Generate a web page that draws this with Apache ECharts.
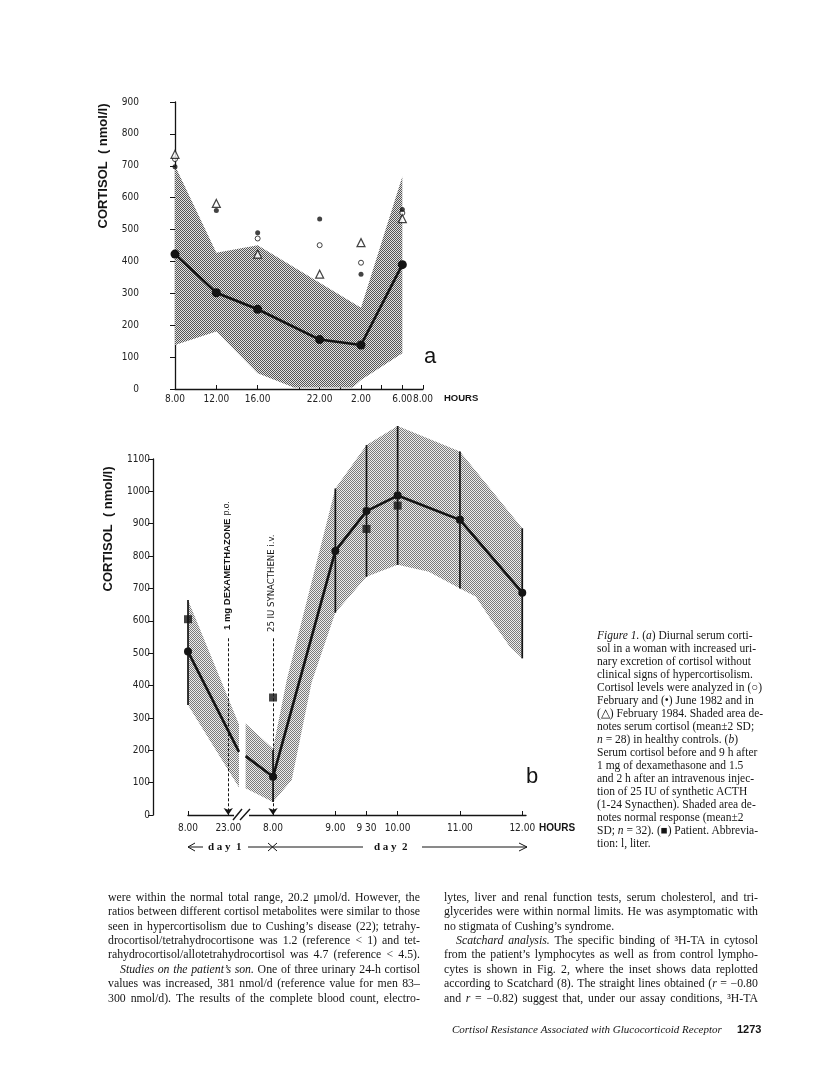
<!DOCTYPE html>
<html><head><meta charset="utf-8">
<script src="https://cdn.jsdelivr.net/npm/echarts@6.0.0/dist/echarts.min.js"></script>
<style>
html,body{margin:0;padding:0;background:#fff;overflow:hidden;}
#wrap{position:relative;width:816px;height:1074px;overflow:hidden;background:#fff;}
#chart{position:absolute;left:0;top:0;width:816px;height:1074px;}
.ln{position:absolute;white-space:nowrap;font-family:"Liberation Serif","Times New Roman",serif;color:#151515;line-height:14px;height:14px;}
.j{display:flex;justify-content:space-between;}
</style></head>
<body><div id="wrap"><div id="chart"></div></div>
<script>
// ---------- Figure 1a data (x = hours after 8.00) ----------
const aHourTicks = [0, 4, 8, 12, 14, 16, 18, 20, 22, 24];
const aHourVals = [0, 4, 8, 14, 18, 22, 24];
const aHourLabels = ['8.00', '12.00', '16.00', '22.00', '2.00', '6.00', '8.00'];
const aMean = [[0, 423], [4, 302], [8, 250], [14, 155], [18, 138], [22, 390]];
const aUpper = [[0, 700], [4, 427], [8, 451], [18, 255], [22, 666]];
const aLower = [[0, 138], [4, 180], [8, 49], [11.5, 5], [17.2, 5], [18, 28], [22, 112]];
const aFeb82 = [[0, 721], [8, 472], [14, 451], [18, 396], [22, 552]];
const aJun82 = [[0, 697], [4, 560], [8, 490], [14, 533], [18, 360], [22, 563]];
const aFeb84 = [[0, 736], [4, 582], [8, 423], [14, 360], [18, 459], [22, 534]];

// ---------- Figure 1b data ----------
const b1Vals = [8, 23];
const b1Labels = ['8.00', '23.00'];
const b2Vals = [8, 9, 9.5, 10, 11, 12];
const b2Labels = ['8.00', '9.00', '9 30', '10.00', '11.00', '12.00'];
const b1Mean = [[8, 505], [27, 195]];
const b1Patient = [[8, 605]];
const b1Range = [[8, 340, 664]];
const b1Upper = [[8, 664], [27, 280]];
const b1Lower = [[8, 340], [27, 85]];
const b2Mean = [[7.56, 182], [8, 118], [9, 816], [9.5, 939], [10, 987], [11, 912], [12, 687]];
const b2Patient = [[8, 363], [9.5, 884], [10, 956]];
const b2Range = [[8, 40, 200], [9, 625, 1009], [9.5, 736, 1143], [10, 773, 1202], [11, 700, 1123], [12, 484, 886]];
const b2Upper = [[7.56, 283], [8, 205], [8.22, 417], [9, 1009], [9.5, 1143], [10, 1202], [11, 1123], [12, 886]];
const b2Lower = [[7.56, 83], [8, 40], [8.3, 108], [8.62, 410], [9, 625], [9.5, 736], [10, 773], [10.5, 752], [11, 700], [11.25, 675], [11.5, 603], [11.8, 520], [12, 484]];
const dexTime = 23, synTime = 8, injTop = 546;

const narrow = '"Liberation Sans Narrow","DejaVu Sans Condensed","Liberation Sans",sans-serif';
const sans = '"Liberation Sans",Arial,sans-serif';
const serifF = '"Liberation Serif","Times New Roman",serif';
const ink = '#141414';

function pattern(dark, light) {
  const c = document.createElement('canvas'); c.width = 2; c.height = 2;
  const g = c.getContext('2d');
  g.fillStyle = light; g.fillRect(0, 0, 2, 2);
  g.fillStyle = dark; g.fillRect(0, 0, 1, 1); g.fillRect(1, 1, 1, 1);
  return c;
}
const patA = pattern('#555555', '#e2e2e2');
const patB = pattern('#7a7a7a', '#ededed');

function bandSeries(xi, yi, upper, lower, pat) {
  const poly = upper.concat(lower.slice().reverse());
  return {
    type: 'custom', xAxisIndex: xi, yAxisIndex: yi, z: 2, silent: true, clip: false,
    data: poly,
    renderItem: function (params, api) {
      if (params.dataIndex !== 0) return null;
      const pts = poly.map(p => api.coord(p));
      return { type: 'polygon', shape: { points: pts }, style: { fill: { image: pat, repeat: 'repeat' }, stroke: null } };
    }
  };
}
function rangeSeries(xi, yi, data) {
  return {
    type: 'custom', xAxisIndex: xi, yAxisIndex: yi, z: 4, silent: true, clip: false,
    data: data, encode: { x: 0, y: [1, 2] },
    renderItem: function (params, api) {
      const p1 = api.coord([api.value(0), api.value(1)]);
      const p2 = api.coord([api.value(0), api.value(2)]);
      return { type: 'line', shape: { x1: p1[0], y1: p1[1], x2: p2[0], y2: p2[1] }, style: { stroke: ink, lineWidth: 1.7 } };
    }
  };
}
function meanSeries(xi, yi, data, sizeFn) {
  return {
    type: 'line', xAxisIndex: xi, yAxisIndex: yi, data: data, z: 5, clip: false,
    symbol: 'circle', symbolSize: sizeFn, showAllSymbol: true,
    lineStyle: { color: ink, width: 2.6 }, itemStyle: { color: ink }
  };
}
function arrowSeries(xi, yi, t) {
  return {
    type: 'line', xAxisIndex: xi, yAxisIndex: yi, data: [[t, 0]], showSymbol: false, z: 1,
    lineStyle: { opacity: 0 },
    markLine: {
      silent: true, symbol: ['none', 'arrow'], symbolSize: 7, animation: false,
      label: { show: false },
      lineStyle: { type: [3, 2], color: ink, width: 1 },
      data: [[{ coord: [t, injTop] }, { coord: [t, 0] }]]
    }
  };
}
function yAx(grid, max, offset) {
  return {
    type: 'value', gridIndex: grid, min: 0, max: max, interval: 100, offset: offset,
    axisLine: { show: true, lineStyle: { color: ink, width: 1.3 } },
    axisTick: { show: true, length: 5, lineStyle: { color: ink, width: 1 } },
    axisLabel: { color: '#222', fontSize: 10, fontFamily: narrow, margin: 3, formatter: v => String(v) },
    splitLine: { show: false }
  };
}
function xAx(grid, min, max, ticks, vals, labels, margin) {
  return {
    type: 'value', gridIndex: grid, min: min, max: max,
    axisLine: { onZero: false, lineStyle: { color: ink, width: 1.3 } },
    axisTick: { inside: true, length: 4, customValues: ticks, lineStyle: { color: ink } },
    axisLabel: {
      customValues: vals, color: '#222', fontSize: 10, fontFamily: narrow, margin: margin,
      formatter: v => { const i = vals.indexOf(v); return i >= 0 ? labels[i] : ''; }
    },
    splitLine: { show: false }
  };
}

const option = {
  animation: false,
  grid: [
    { left: 175, top: 102, width: 248, height: 287 },
    { left: 188, top: 459, width: 51, height: 356 },
    { left: 245, top: 459, width: 281, height: 356 }
  ],
  xAxis: [
    xAx(0, 0, 24, aHourTicks, aHourVals, aHourLabels, 5),
    xAx(1, 8, 27, b1Vals, b1Vals, b1Labels, 8),
    xAx(2, 7.55, 12.06, b2Vals, b2Vals, b2Labels, 8)
  ],
  yAxis: [
    yAx(0, 900, 33),
    yAx(1, 1100, 35),
    Object.assign(yAx(2, 1100, 0), { show: false })
  ],
  series: [
    bandSeries(0, 0, aUpper, aLower, patA),
    meanSeries(0, 0, aMean, 9),
    { type: 'scatter', xAxisIndex: 0, yAxisIndex: 0, data: aFeb82, z: 6, symbol: 'circle', symbolSize: 5,
      itemStyle: { color: '#fff', borderColor: ink, borderWidth: 1 } },
    { type: 'scatter', xAxisIndex: 0, yAxisIndex: 0, data: aJun82, z: 6, symbol: 'circle', symbolSize: 5,
      itemStyle: { color: ink } },
    { type: 'scatter', xAxisIndex: 0, yAxisIndex: 0, data: aFeb84, z: 6, symbol: 'triangle', symbolSize: 8,
      itemStyle: { color: '#fff', borderColor: ink, borderWidth: 1.2 } },

    arrowSeries(1, 1, dexTime),
    bandSeries(1, 1, b1Upper, b1Lower, patB),
    rangeSeries(1, 1, b1Range),
    meanSeries(1, 1, b1Mean, (v, p) => p.dataIndex === b1Mean.length - 1 ? 0 : 8),
    { type: 'scatter', xAxisIndex: 1, yAxisIndex: 1, data: b1Patient, z: 6, symbol: 'rect', symbolSize: 8,
      itemStyle: { color: ink } },

    arrowSeries(2, 2, synTime),
    bandSeries(2, 2, b2Upper, b2Lower, patB),
    rangeSeries(2, 2, b2Range),
    meanSeries(2, 2, b2Mean, (v, p) => p.dataIndex === 0 ? 0 : 8),
    { type: 'scatter', xAxisIndex: 2, yAxisIndex: 2, data: b2Patient, z: 6, symbol: 'rect', symbolSize: 8,
      itemStyle: { color: ink } }
  ],
  graphic: [
    { type: 'text', x: 103, y: 166, rotation: Math.PI / 2, style: { text: 'CORTISOL  ( nmol/l)', fontSize: 13, fontWeight: 'bold', fontFamily: sans, fill: ink, align: 'center', verticalAlign: 'middle' } },
    { type: 'text', x: 108, y: 529, rotation: Math.PI / 2, style: { text: 'CORTISOL  ( nmol/l)', fontSize: 13, fontWeight: 'bold', fontFamily: sans, fill: ink, align: 'center', verticalAlign: 'middle' } },
    { type: 'text', x: 227, y: 630, rotation: Math.PI / 2, style: { text: '{b|1 mg DEXAMETHAZONE} {r|p.o.}', align: 'left', verticalAlign: 'middle',
      rich: { b: { fontSize: 9.5, fontWeight: 'bold', fontFamily: sans, fill: ink }, r: { fontSize: 8.5, fontFamily: sans, fill: ink } } } },
    { type: 'text', x: 272, y: 632, rotation: Math.PI / 2, style: { text: '25 IU SYNACTHENE i.v.', fontSize: 9.5, fontFamily: narrow, fill: ink, align: 'left', verticalAlign: 'middle' } },
    { type: 'text', x: 424, y: 357, style: { text: 'a', fontSize: 22, fontFamily: sans, fill: ink, align: 'left', verticalAlign: 'middle' } },
    { type: 'text', x: 526, y: 777, style: { text: 'b', fontSize: 22, fontFamily: sans, fill: ink, align: 'left', verticalAlign: 'middle' } },
    { type: 'text', x: 444, y: 398, style: { text: 'HOURS', fontSize: 9.5, fontWeight: 'bold', fontFamily: sans, fill: ink, align: 'left', verticalAlign: 'middle' } },
    { type: 'text', x: 539, y: 828, style: { text: 'HOURS', fontSize: 10, fontWeight: 'bold', fontFamily: sans, fill: ink, align: 'left', verticalAlign: 'middle' } },
    // axis break
    { type: 'rect', z: 50, shape: { x: 234, y: 812, width: 15, height: 6 }, style: { fill: '#fff' } },
    { type: 'line', z: 51, shape: { x1: 233, y1: 820, x2: 242, y2: 809 }, style: { stroke: ink, lineWidth: 1.4 } },
    { type: 'line', z: 51, shape: { x1: 240, y1: 820, x2: 250, y2: 809 }, style: { stroke: ink, lineWidth: 1.4 } },
    // day row
    { type: 'polyline', z: 51, shape: { points: [[195, 843], [188, 847], [195, 851]] }, style: { stroke: ink, lineWidth: 1, fill: null } },
    { type: 'line', z: 51, shape: { x1: 188, y1: 847, x2: 203, y2: 847 }, style: { stroke: ink, lineWidth: 1 } },
    { type: 'text', x: 208, y: 847, style: { text: 'd a y  1', fontSize: 11, fontWeight: 'bold', fontFamily: serifF, fill: ink, align: 'left', verticalAlign: 'middle' } },
    { type: 'line', z: 51, shape: { x1: 248, y1: 847, x2: 363, y2: 847 }, style: { stroke: ink, lineWidth: 1 } },
    { type: 'line', z: 51, shape: { x1: 268, y1: 843, x2: 277, y2: 851 }, style: { stroke: ink, lineWidth: 1 } },
    { type: 'line', z: 51, shape: { x1: 268, y1: 851, x2: 277, y2: 843 }, style: { stroke: ink, lineWidth: 1 } },
    { type: 'text', x: 374, y: 847, style: { text: 'd a y  2', fontSize: 11, fontWeight: 'bold', fontFamily: serifF, fill: ink, align: 'left', verticalAlign: 'middle' } },
    { type: 'line', z: 51, shape: { x1: 422, y1: 847, x2: 527, y2: 847 }, style: { stroke: ink, lineWidth: 1 } },
    { type: 'polyline', z: 51, shape: { points: [[519, 843], [527, 847], [519, 851]] }, style: { stroke: ink, lineWidth: 1, fill: null } }
  ]
};
const chart = echarts.init(document.getElementById('chart'));
chart.setOption(option);

// ---------- page text ----------
const wrap = document.getElementById('wrap');
function buildLine(str, left, yc, width, fontSize, justify) {
  const div = document.createElement('div');
  div.className = 'ln' + (justify ? ' j' : '');
  div.style.left = left + 'px';
  div.style.top = (yc - 7) + 'px';
  if (justify) div.style.width = width + 'px';
  div.style.fontSize = fontSize + 'px';
  let italic = false;
  const words = str.split(' ');
  words.forEach((w, wi) => {
    const span = document.createElement('span');
    let buf = '';
    const flush = () => { if (!buf) return; const s = document.createElement(italic ? 'i' : 'span'); s.textContent = buf; span.appendChild(s); buf = ''; };
    for (const ch of w) { if (ch === '_') { flush(); italic = !italic; } else buf += ch; }
    flush();
    div.appendChild(span);
    if (!justify && wi < words.length - 1) div.appendChild(document.createTextNode(' '));
  });
  wrap.appendChild(div);
  return div;
}
const captionLines = [
  '_Figure 1._ (_a_) Diurnal serum corti-',
  'sol in a woman with increased uri-',
  'nary excretion of cortisol without',
  'clinical signs of hypercortisolism.',
  'Cortisol levels were analyzed in (○)',
  'February and (•) June 1982 and in',
  '(△) February 1984. Shaded area de-',
  'notes serum cortisol (mean±2 SD;',
  '_n_ = 28) in healthy controls. (_b_)',
  'Serum cortisol before and 9 h after',
  '1 mg of dexamethasone and 1.5',
  'and 2 h after an intravenous injec-',
  'tion of 25 IU of synthetic ACTH',
  '(1-24 Synacthen). Shaded area de-',
  'notes normal response (mean±2',
  'SD; _n_ = 32). (■) Patient. Abbrevia-',
  'tion: l, liter.'
];
captionLines.forEach((s, i) => buildLine(s, 597, 635 + 13.02 * i, 0, 11.5, false));

const leftCol = [
  'were within the normal total range, 20.2 μmol/d. However, the',
  'ratios between different cortisol metabolites were similar to those',
  'seen in hypercortisolism due to Cushing’s disease (22); tetrahy-',
  'drocortisol/tetrahydrocortisone was 1.2 (reference < 1) and tet-',
  'rahydrocortisol/allotetrahydrocortisol was 4.7 (reference < 4.5).',
  '_Studies on the patient’s son._ One of three urinary 24-h cortisol',
  'values was increased, 381 nmol/d (reference value for men 83–',
  '300 nmol/d). The results of the complete blood count, electro-'
];
const rightCol = [
  'lytes, liver and renal function tests, serum cholesterol, and tri-',
  'glycerides were within normal limits. He was asymptomatic with',
  'no stigmata of Cushing’s syndrome.',
  '_Scatchard analysis._ The specific binding of ³H-TA in cytosol',
  'from the patient’s lymphocytes as well as from control lympho-',
  'cytes is shown in Fig. 2, where the inset shows data replotted',
  'according to Scatchard (8). The straight lines obtained (_r_ = −0.80',
  'and _r_ = −0.82) suggest that, under our assay conditions, ³H-TA'
];
leftCol.forEach((s, i) => {
  const ind = i === 5 ? 12 : 0;
  buildLine(s, 108 + ind, 896.7 + 14.43 * i, 312 - ind, 11.8, true);
});
rightCol.forEach((s, i) => {
  const ind = i === 3 ? 12 : 0;
  buildLine(s, 444 + ind, 896.7 + 14.43 * i, 314 - ind, 11.8, i !== 2);
});
buildLine('_Cortisol Resistance Associated with Glucocorticoid Receptor_', 452, 1029, 0, 11, false);
const pg = buildLine('1273', 737, 1029, 0, 11, false);
pg.style.fontFamily = sans; pg.style.fontWeight = 'bold';
</script>
</body></html>
